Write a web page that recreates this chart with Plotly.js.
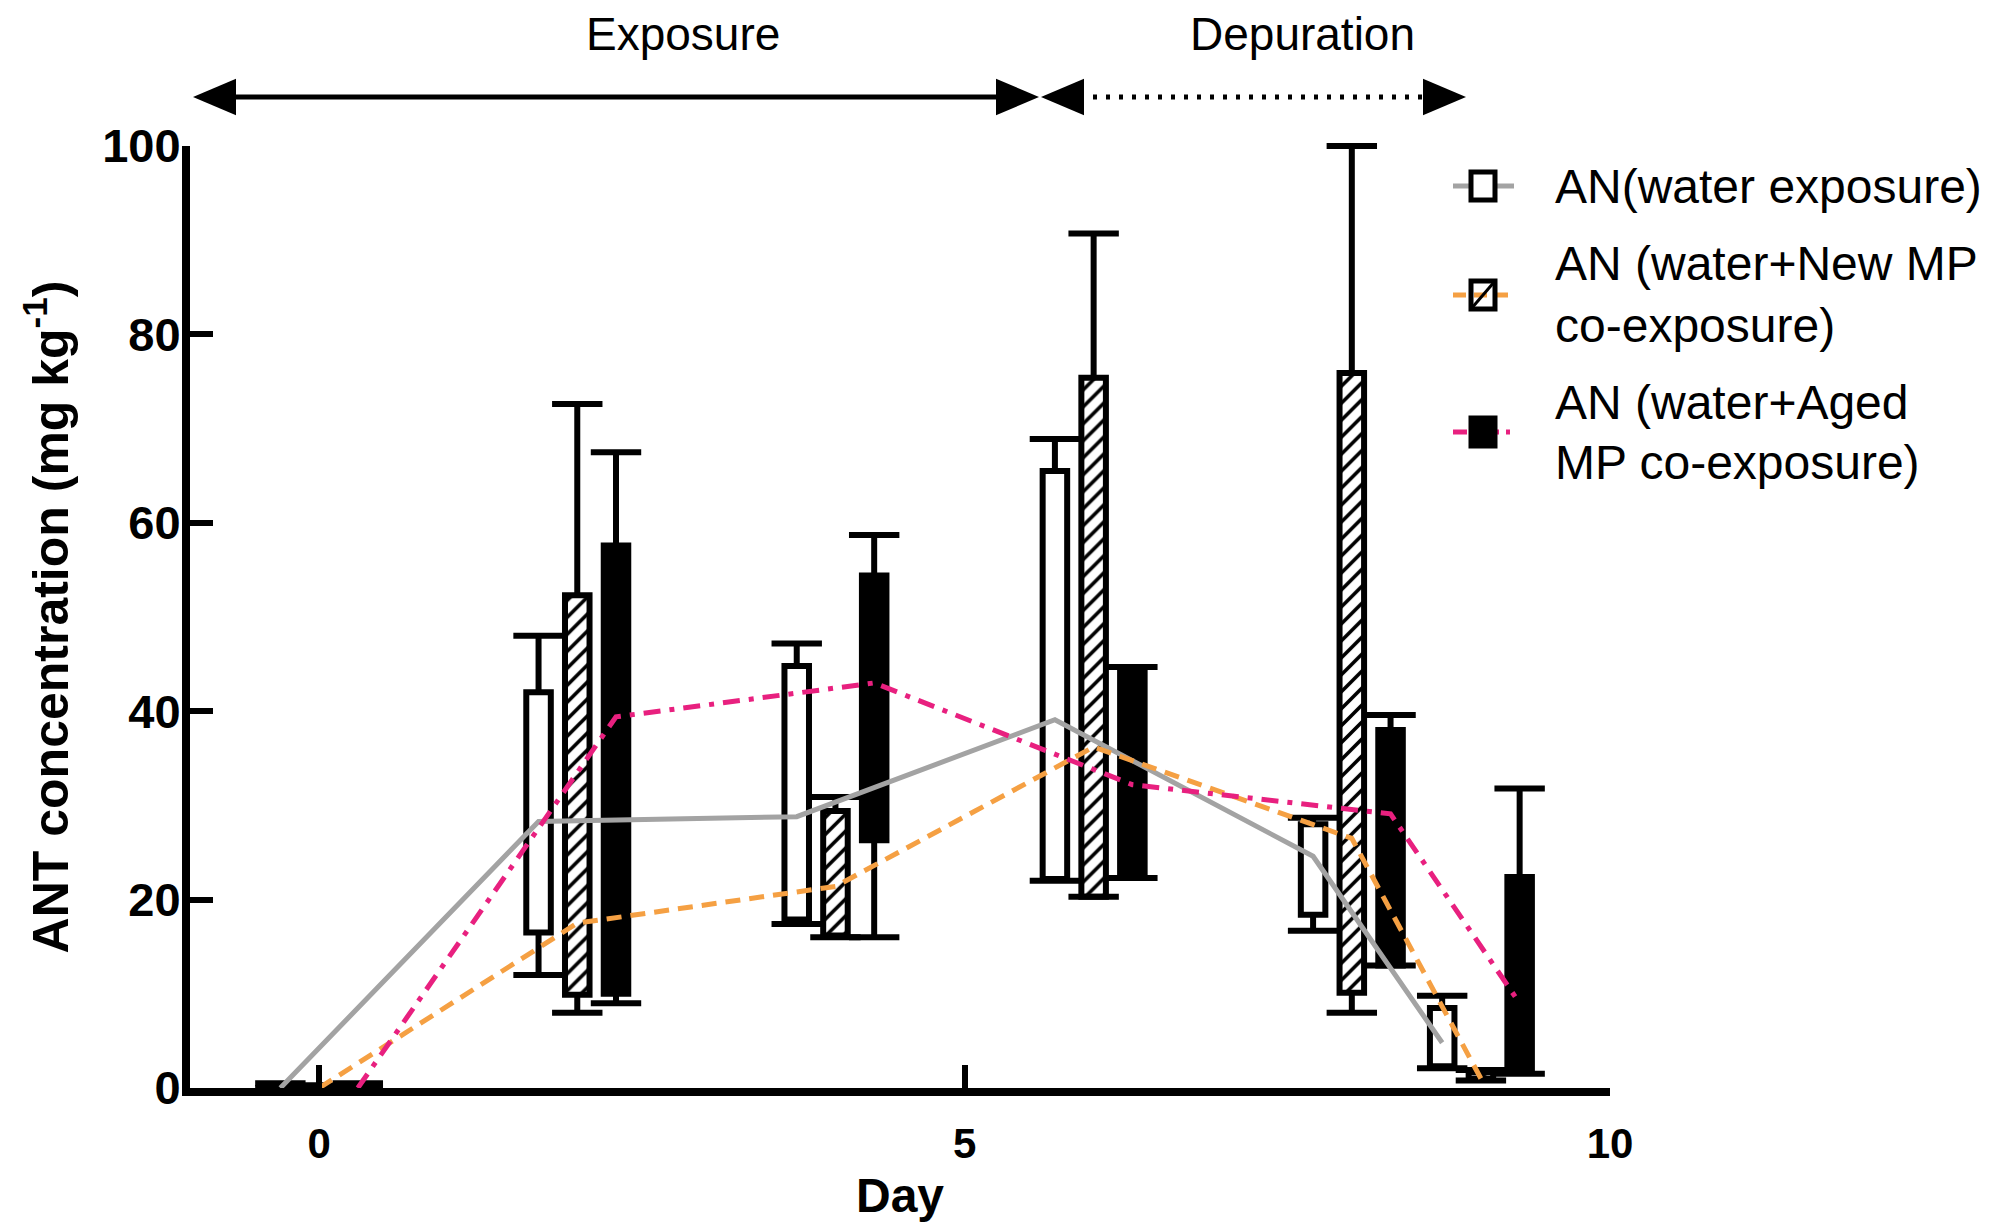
<!DOCTYPE html>
<html>
<head>
<meta charset="utf-8">
<script src="https://cdn.plot.ly/plotly-3.0.1.min.js"></script>
<style>html,body{margin:0;padding:0;background:#fff;}#chart{width:1995px;height:1222px;}</style>
</head>
<body>
<div id="chart"></div>
<script>
// ---- data ----
const days = [0, 2, 4, 6, 8, 9];
const seriesNames = ["AN(water exposure)", "AN (water+New MP co-exposure)", "AN (water+Aged MP co-exposure)"];

// AN (water exposure) — open boxes, grey solid line
const waterBoxLow  = [0, 16.5, 17.9, 22.2, 18.4, 2.3];
const waterBoxHigh = [0.3, 42.0, 44.8, 65.5, 28.0, 8.5];
const waterWhLow   = [0, 12.0, 17.4, 22.0, 16.7, 2.1];
const waterWhHigh  = [0.5, 48.0, 47.2, 68.9, 28.7, 9.8];
const waterMean    = [0, 28.3, 28.8, 39.1, 24.6, 4.8];

// AN (water + New MP) — hatched boxes, orange dashed line
const newBoxLow  = [0, 9.9, 16.2, 20.3, 10.1, 1.0];
const newBoxHigh = [0.2, 52.3, 29.4, 75.4, 75.9, 1.7];
const newWhLow   = [0, 8.0, 16.0, 20.3, 8.0, 0.8];
const newWhHigh  = [0.3, 72.6, 30.9, 90.7, 100, 1.9];
const newMean    = [0, 17.5, 21.4, 36.2, 26.5, 1.0];

// AN (water + Aged MP) — black boxes, pink dash-dot line
const agedBoxLow  = [0, 10.0, 26.3, 22.4, 13.0, 1.8];
const agedBoxHigh = [0.3, 57.6, 54.4, 44.5, 38.0, 22.4];
const agedWhLow   = [0, 9.0, 16.0, 22.3, 13.0, 1.5];
const agedWhHigh  = [0.5, 67.5, 58.7, 44.7, 39.6, 31.8];
const agedMean    = [0, 39.4, 43.0, 32.2, 29.1, 9.0];

const xTickVals = [0, 5, 10];
const yTickVals = [0, 20, 40, 60, 80, 100];

// ---- styling ----
const FONT = "Liberation Sans, Arial, Helvetica, sans-serif";
const offsets = [-0.3, 0, 0.3];
const BAR_W = 0.19, BORDER = 6, WHISK = 6, CAP = 36;

const series = [
  {low: waterBoxLow, high: waterBoxHigh, wl: waterWhLow, wh: waterWhHigh, mean: waterMean,
   fill: 'white', pattern: null, line: {color: '#a3a3a3', width: 5, dash: 'solid'}},
  {low: newBoxLow, high: newBoxHigh, wl: newWhLow, wh: newWhHigh, mean: newMean,
   fill: 'white', pattern: {shape: '/', bgcolor: 'white', fgcolor: 'black', size: 12, solidity: 0.3},
   line: {color: '#f5a043', width: 5, dash: '15px,9px'}},
  {low: agedBoxLow, high: agedBoxHigh, wl: agedWhLow, wh: agedWhHigh, mean: agedMean,
   fill: 'black', pattern: null, line: {color: '#e8207f', width: 5, dash: '17px,9px,5px,9px'}}
];

const traces = [];
series.forEach((s, i) => {
  const xs = days.map(d => d + offsets[i]);
  const marker = {color: s.fill, line: {color: 'black', width: BORDER}};
  if (s.pattern) marker.pattern = s.pattern;
  traces.push({type: 'bar', name: seriesNames[i], x: xs, base: s.low,
    y: s.high.map((h, k) => h - s.low[k]), width: BAR_W, marker: marker,
    showlegend: false, hoverinfo: 'skip'});
});
series.forEach((s, i) => {
  const xs = days.map(d => d + offsets[i]);
  // whiskers: upper (box top -> whisker top), lower (box bottom -> whisker bottom)
  traces.push({type: 'scatter', mode: 'markers', x: xs.concat(xs), y: s.high.concat(s.low),
    marker: {size: 1, color: 'rgba(0,0,0,0)'}, cliponaxis: false, showlegend: false, hoverinfo: 'skip',
    error_y: {type: 'data', symmetric: false,
      array: s.wh.map((v, k) => v - s.high[k]).concat(s.low.map(() => 0)),
      arrayminus: s.high.map(() => 0).concat(s.low.map((v, k) => v - s.wl[k])),
      width: 0, thickness: WHISK, color: 'black'}});
  // caps
  traces.push({type: 'scatter', mode: 'markers', x: xs.concat(xs), y: s.wh.concat(s.wl),
    marker: {symbol: 'line-ew', size: CAP, color: 'black', line: {color: 'black', width: WHISK}},
    cliponaxis: false, showlegend: false, hoverinfo: 'skip'});
});
series.forEach((s, i) => {
  const xs = days.map(d => d + offsets[i]);
  traces.push({type: 'scatter', mode: 'lines', name: seriesNames[i], x: xs, y: s.mean,
    line: s.line, cliponaxis: false, showlegend: false, hoverinfo: 'skip'});
});

// ---- decorations: phase arrows and legend (paper coordinates) ----
const px = v => (v - 190) / 1420;
const py = v => (1088 - v) / 942;
const arrowY = py(97), ah = 0.0195;
const tri = (tip, base) => `M${tip},${arrowY} L${base},${arrowY + ah} L${base},${arrowY - ah} Z`;
const shapes = [
  {type: 'line', xref: 'paper', yref: 'paper', x0: px(220), x1: px(1010), y0: arrowY, y1: arrowY, line: {color: 'black', width: 5}},
  {type: 'line', xref: 'paper', yref: 'paper', x0: px(1080), x1: px(1430), y0: arrowY, y1: arrowY, line: {color: 'black', width: 5, dash: '4px,9px'}},
  {type: 'path', xref: 'paper', yref: 'paper', path: tri(px(193), px(236)), fillcolor: 'black', line: {width: 0}},
  {type: 'path', xref: 'paper', yref: 'paper', path: tri(px(1039), px(996)), fillcolor: 'black', line: {width: 0}},
  {type: 'path', xref: 'paper', yref: 'paper', path: tri(px(1041), px(1084)), fillcolor: 'black', line: {width: 0}},
  {type: 'path', xref: 'paper', yref: 'paper', path: tri(px(1466), px(1423)), fillcolor: 'black', line: {width: 0}}
];
const legRows = [py(186), py(295), py(432)];
const lx0 = px(1453), lx1 = px(1514), lxc = px(1483), bw = 12 / 1420, bh = 14 / 942;
series.forEach((s, i) => {
  const y = legRows[i];
  shapes.push({type: 'line', xref: 'paper', yref: 'paper', x0: lx0, x1: lx1, y0: y, y1: y,
    line: {color: s.line.color, width: 5, dash: s.line.dash === 'solid' ? 'solid' : (i === 1 ? '13px,8px' : '14px,7px,4px,7px')}});
  shapes.push({type: 'rect', xref: 'paper', yref: 'paper', x0: lxc - bw, x1: lxc + bw, y0: y - bh, y1: y + bh,
    fillcolor: i === 1 ? 'rgba(0,0,0,0)' : s.fill, line: {color: 'black', width: 5}});
  if (i === 1) shapes.push({type: 'line', xref: 'paper', yref: 'paper', x0: lxc - bw, x1: lxc + bw, y0: y - bh, y1: y + bh,
    line: {color: 'black', width: 3}});
});

const legLines = [
  ["AN(water exposure)", 186], ["AN (water+New MP", 263], ["co-exposure)", 325],
  ["AN (water+Aged", 402], ["MP co-exposure)", 462]
];
const annotations = legLines.map(([t, y]) => ({xref: 'paper', yref: 'paper', x: px(1553), y: py(y),
  xanchor: 'left', yanchor: 'middle', text: t, showarrow: false, font: {family: FONT, size: 48, color: 'black'}}));
annotations.push({xref: 'paper', yref: 'paper', x: px(683), y: py(34), text: 'Exposure', showarrow: false,
  xanchor: 'center', yanchor: 'middle', font: {family: FONT, size: 46, color: 'black'}});
annotations.push({xref: 'paper', yref: 'paper', x: px(1302), y: py(34), text: 'Depuration', showarrow: false,
  xanchor: 'center', yanchor: 'middle', font: {family: FONT, size: 46, color: 'black'}});

const layout = {
  width: 1995, height: 1222,
  margin: {l: 190, r: 385, t: 146, b: 134, pad: 0},
  paper_bgcolor: 'white', plot_bgcolor: 'white',
  barmode: 'overlay', showlegend: false,
  font: {family: FONT, color: 'black'},
  xaxis: {range: [-1, 10], tickvals: xTickVals, ticktext: xTickVals.map(String),
    ticks: 'inside', ticklen: 23, tickwidth: 6, tickcolor: 'black',
    showline: true, linewidth: 8, linecolor: 'black', showgrid: false, zeroline: false,
    ticklabelstandoff: 12,
    tickfont: {family: FONT, size: 42, weight: 'bold', color: 'black'},
    title: {text: 'Day', standoff: 20, font: {family: FONT, size: 48, weight: 'bold', color: 'black'}}},
  yaxis: {range: [0, 100], tickvals: yTickVals, ticktext: yTickVals.map(String),
    ticks: 'inside', ticklen: 23, tickwidth: 6, tickcolor: 'black',
    showline: true, linewidth: 8, linecolor: 'black', showgrid: false, zeroline: false,
    ticklabelstandoff: -8,
    tickfont: {family: FONT, size: 47, weight: 'bold', color: 'black'},
    title: {text: 'ANT concentration (mg kg<sup>-1</sup>)', standoff: 21,
      font: {family: FONT, size: 50, weight: 'bold', color: 'black'}}},
  shapes: shapes,
  annotations: annotations
};

Plotly.newPlot('chart', traces, layout, {displayModeBar: false, staticPlot: true});
</script>
</body>
</html>
